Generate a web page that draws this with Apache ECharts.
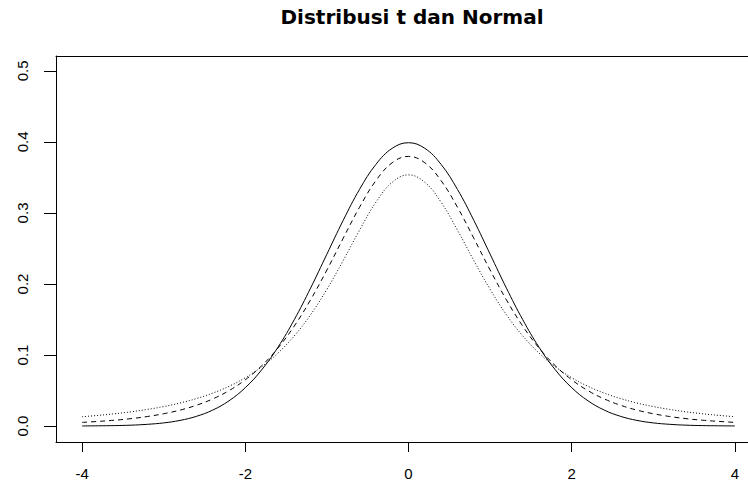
<!DOCTYPE html>
<html>
<head>
<meta charset="utf-8">
<script src="https://cdn.jsdelivr.net/npm/echarts@6/dist/echarts.min.js"></script>
<style>
  html, body { margin: 0; padding: 0; background: #fff; }
  #chart { width: 748px; height: 481px; }
</style>
</head>
<body>
<div id="chart"></div>
<script>
// x positions of the curves
var xs = [-4.0, -3.8, -3.6, -3.4, -3.2, -3.0, -2.8, -2.6, -2.4, -2.2, -2.0,
          -1.8, -1.6, -1.4, -1.2, -1.0, -0.8, -0.6, -0.4, -0.2, 0.0,
          0.2, 0.4, 0.6, 0.8, 1.0, 1.2, 1.4, 1.6, 1.8, 2.0,
          2.2, 2.4, 2.6, 2.8, 3.0, 3.2, 3.4, 3.6, 3.8, 4.0];

// normal curve (solid)
var normal = [0.0001, 0.0003, 0.0006, 0.0012, 0.0024, 0.0044, 0.0079, 0.0136, 0.0224, 0.0355, 0.0540,
              0.0790, 0.1109, 0.1497, 0.1942, 0.2420, 0.2897, 0.3332, 0.3683, 0.3910, 0.3989,
              0.3910, 0.3683, 0.3332, 0.2897, 0.2420, 0.1942, 0.1497, 0.1109, 0.0790, 0.0540,
              0.0355, 0.0224, 0.0136, 0.0079, 0.0044, 0.0024, 0.0012, 0.0006, 0.0003, 0.0001];

// t curve, dashed
var tDashed = [0.0051, 0.0065, 0.0082, 0.0104, 0.0134, 0.0173, 0.0224, 0.0292, 0.0381, 0.0498, 0.0651,
               0.0848, 0.1098, 0.1407, 0.1777, 0.2197, 0.2645, 0.3081, 0.3454, 0.3707, 0.3796,
               0.3707, 0.3454, 0.3081, 0.2645, 0.2197, 0.1777, 0.1407, 0.1098, 0.0848, 0.0651,
               0.0498, 0.0381, 0.0292, 0.0224, 0.0173, 0.0134, 0.0104, 0.0082, 0.0065, 0.0051];

// t curve, dotted
var tDotted = [0.0131, 0.0150, 0.0173, 0.0200, 0.0234, 0.0274, 0.0324, 0.0386, 0.0463, 0.0559, 0.0680,
               0.0834, 0.1027, 0.1269, 0.1567, 0.1925, 0.2331, 0.2758, 0.3150, 0.3432, 0.3536,
               0.3432, 0.3150, 0.2758, 0.2331, 0.1925, 0.1567, 0.1269, 0.1027, 0.0834, 0.0680,
               0.0559, 0.0463, 0.0386, 0.0324, 0.0274, 0.0234, 0.0200, 0.0173, 0.0150, 0.0131];

var xTicks = [-4, -2, 0, 2, 4];
var yTicks = [0, 0.1, 0.2, 0.3, 0.4, 0.5];

function pairs(ys) {
    return xs.map(function (x, i) { return [x, ys[i]]; });
}

var chart = echarts.init(document.getElementById('chart'), null, { renderer: 'svg' });

var labelFont = {
    fontFamily: 'Liberation Sans, Arial, sans-serif',
    fontSize: 15,
    color: '#000'
};
var black = { color: '#000', width: 1 };

function curve(name, ys, type) {
    return {
        name: name,
        type: 'line',
        data: pairs(ys),
        showSymbol: false,
        smooth: 0.4,
        silent: true,
        lineStyle: { color: '#000', width: 1, type: type }
    };
}

// plot box is wider than the image, its right side is cut off
option = {
    backgroundColor: '#fff',
    animation: false,
    title: {
        text: 'Distribusi t dan Normal',
        left: 407,
        top: 2,
        textAlign: 'center',
        textStyle: {
            fontFamily: 'DejaVu Sans, sans-serif',
            fontWeight: 'bold',
            fontSize: 20,
            color: '#000'
        }
    },
    grid: {
        left: 56,
        top: 56,
        width: 705,
        height: 386,
        outerBoundsMode: 'none',
        show: false
    },
    xAxis: [{
        type: 'value',
        min: -4.32,
        max: 4.32,
        axisLine: { show: true, onZero: false, lineStyle: black },
        splitLine: { show: false },
        axisTick: { show: true, length: 10, customValues: xTicks, lineStyle: black },
        axisLabel: Object.assign({ margin: 24, customValues: xTicks }, labelFont)
    }, {
        type: 'value',
        position: 'top',
        min: -4.32,
        max: 4.32,
        axisLine: { show: true, onZero: false, lineStyle: black },
        splitLine: { show: false },
        axisTick: { show: false },
        axisLabel: { show: false }
    }],
    yAxis: {
        type: 'value',
        min: -0.0225,
        max: 0.521,
        axisLine: { show: true, onZero: false, lineStyle: black },
        splitLine: { show: false },
        axisTick: { show: true, length: 12, customValues: yTicks, lineStyle: black },
        axisLabel: Object.assign({
            margin: 26,
            rotate: 90,
            customValues: yTicks,
            formatter: function (v) { return v.toFixed(1); }
        }, labelFont)
    },
    series: [
        curve('Normal', normal, 'solid'),
        curve('t dashed', tDashed, [5, 4]),
        curve('t dotted', tDotted, [1, 2])
    ]
};

chart.setOption(option);
</script>
</body>
</html>
